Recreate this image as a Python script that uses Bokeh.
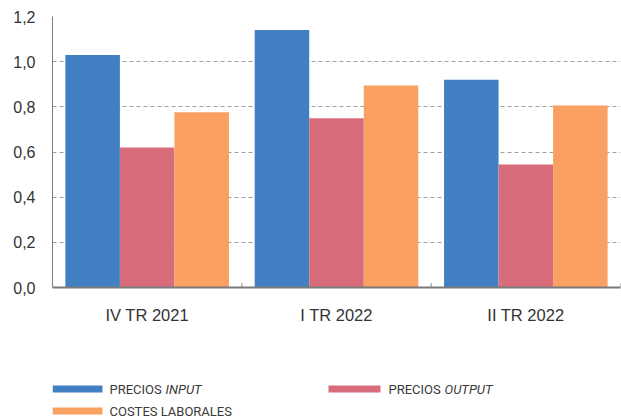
from bokeh.plotting import figure
from bokeh.layouts import column
from bokeh.models import (ColumnDataSource, FactorRange, Range1d, FixedTicker,
                          CustomJSTickFormatter)
from bokeh.core.properties import value
from bokeh.transform import dodge
from bokeh.embed import file_html
from bokeh.resources import INLINE

categories = ["IV TR 2021", "I TR 2022", "II TR 2022"]
precios_input = [1.03, 1.14, 0.92]
precios_output = [0.62, 0.75, 0.545]
costes_laborales = [0.776, 0.894, 0.806]
y_ticks = [0.0, 0.2, 0.4, 0.6, 0.8, 1.0, 1.2]

C_IN = "#4080c3"
C_OUT = "#d86c7b"
C_LAB = "#f9a062"
TXT = "#333333"
FONT = "Liberation Sans"
LEGFONT = "Roboto"

src = ColumnDataSource(dict(cat=categories, inp=precios_input,
                            out=precios_output, lab=costes_laborales))

p = figure(width=621, height=330, x_range=FactorRange(factors=categories, range_padding=0),
           y_range=Range1d(0, 1.2), output_backend="svg", toolbar_location=None,
           min_border_left=52, min_border_right=1, min_border_top=16, min_border_bottom=43)
p.outline_line_color = None
p.background_fill_color = "white"
p.border_fill_color = "white"

w = 0.288
p.vbar(x=dodge("cat", -w, range=p.x_range), top="inp", width=w, source=src,
       fill_color=C_IN, line_color=None)
p.vbar(x=dodge("cat", 0, range=p.x_range), top="out", width=w, source=src,
       fill_color=C_OUT, line_color=None)
p.vbar(x=dodge("cat", w, range=p.x_range), top="lab", width=w, source=src,
       fill_color=C_LAB, line_color=None)

# small tick marks at the category boundaries (pointing up from the axis)
bounds = [i + 1 for i in range(len(categories))]
p.segment(x0=bounds, x1=bounds, y0=[0] * len(bounds), y1=[0.02] * len(bounds),
          line_color="#8a8a8a", line_width=1)

p.xgrid.grid_line_color = None
p.ygrid.grid_line_color = "#a0a0a0"
p.ygrid.grid_line_dash = "4 3"
p.ygrid.grid_line_width = 1

xa = p.xaxis[0]
xa.axis_line_color = "#7a7a7a"
xa.axis_line_width = 2
xa.major_tick_line_color = None
xa.minor_tick_line_color = None
xa.major_label_text_font = FONT
xa.major_label_text_font_size = "16.5px"
xa.major_label_text_color = TXT
xa.major_label_standoff = 12

ya = p.yaxis[0]
ya.ticker = FixedTicker(ticks=y_ticks)
ya.formatter = CustomJSTickFormatter(code="return tick.toFixed(1).replace('.', ',');")
ya.axis_line_color = "#808080"
ya.axis_line_width = 1
ya.major_tick_line_color = None
ya.minor_tick_line_color = None
ya.major_tick_out = 0
ya.major_tick_in = 0
ya.major_label_text_font = FONT
ya.major_label_text_font_size = "16px"
ya.major_label_text_color = TXT
ya.major_label_standoff = 17

# legend panel: separate figure whose frame spans the same pixels as the chart frame
leg = figure(width=621, height=87, x_range=Range1d(52, 620), y_range=Range1d(87, 0),
             output_backend="svg", toolbar_location=None,
             x_axis_location=None, y_axis_location=None,
             min_border_left=52, min_border_right=1, min_border_top=0, min_border_bottom=0)
leg.outline_line_color = None
leg.xgrid.grid_line_color = None
leg.ygrid.grid_line_color = None

r1, r2 = 58.5, 80.5
leg_sw = ColumnDataSource(dict(l=[52, 328, 52], r=[102, 380, 102],
                               t=[r1 - 3.5, r1 - 3.5, r2 - 3.5], b=[r1 + 3.5, r1 + 3.5, r2 + 3.5],
                               c=[C_IN, C_OUT, C_LAB]))
leg.quad(left="l", right="r", top="t", bottom="b", fill_color="c", line_color=None, source=leg_sw)

normal = ColumnDataSource(dict(x=[109, 388, 109], y=[r1, r1, r2],
                               t=["PRECIOS", "PRECIOS", "COSTES LABORALES"]))
ital = ColumnDataSource(dict(x=[165, 444], y=[r1, r1], t=["INPUT", "OUTPUT"]))
for s, st in ((normal, "normal"), (ital, "italic")):
    leg.text(x="x", y="y", text="t", source=s, text_font=value(LEGFONT),
             text_font_size="13px", text_font_style=st, text_color="#3a3a3a",
             text_baseline="middle", text_align="left")

layout = column(p, leg, spacing=0)
open("out.html", "w").write(file_html(layout, INLINE))
